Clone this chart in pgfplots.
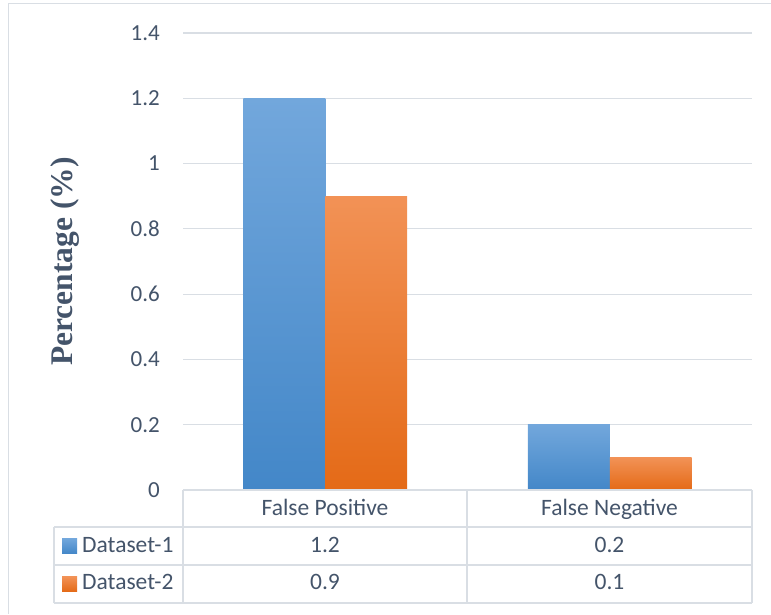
\documentclass[border=0pt]{standalone}
\usepackage{pgfplots}
\usepackage{pgfplotstable}
\pgfplotsset{compat=1.18}
\usepackage{fontspec}
\setmainfont{Carlito}
\newfontfamily\serifface{Liberation Serif}

\definecolor{txt}{HTML}{44546A}
\definecolor{rulec}{HTML}{D9DEE4}
\definecolor{blueTop}{HTML}{72A7DC}
\definecolor{blueBot}{HTML}{4387C8}
\definecolor{orTop}{HTML}{F29256}
\definecolor{orBot}{HTML}{E46A17}

% error rates per dataset (percent)
\pgfplotstableread{
idx cat ds1 ds2
0 {False Positive} 1.2 0.9
1 {False Negative} 0.2 0.1
}\rates

\newcommand{\tablefont}{\fontsize{23.5}{28}\selectfont}

% one bar per plot, so each bar gets its own gradient
\pgfplotsset{
  bluebar/.style={ybar, bar width=0.288, bar shift=-0.144, draw=none,
    top color=blueTop, bottom color=blueBot},
  orangebar/.style={ybar, bar width=0.288, bar shift=0.144, draw=none,
    top color=orTop, bottom color=orBot},
}

\begin{document}
\begin{tikzpicture}
\useasboundingbox (0,0) rectangle (771pt,614pt);
% chart frame
\draw[rulec, line width=1pt] (8pt,0pt) -- (8pt,610pt) -- (771pt,610pt);

\begin{axis}[
  at={(183pt,124pt)}, anchor=south west,
  scale only axis, width=569pt, height=457pt,
  xmin=-0.5, xmax=1.5, ymin=0, ymax=1.4,
  xtick=\empty,
  ytick={0,0.2,0.4,0.6,0.8,1,1.2,1.4},
  ymajorgrids, grid style={rulec, line width=1.2pt},
  axis line style={draw=none}, major tick length=0pt,
  yticklabel style={font=\fontsize{23}{28}\selectfont, text=txt, inner sep=0pt, xshift=-23pt,
    /pgf/number format/fixed, /pgf/number format/precision=1,
    /pgf/number format/assume math mode=true},
  ylabel={Percentage (\%)},
  every axis y label/.style={at={(axis description cs:-0.207,0.5)}, rotate=90,
    anchor=center, font=\serifface\bfseries\fontsize{31.5}{36}\selectfont, text=txt},
  clip=false,
]
\addplot[bluebar, skip coords between index={1}{2}] table[x=idx, y=ds1]{\rates};
\addplot[bluebar, skip coords between index={0}{1}] table[x=idx, y=ds1]{\rates};
\addplot[orangebar, skip coords between index={1}{2}] table[x=idx, y=ds2]{\rates};
\addplot[orangebar, skip coords between index={0}{1}] table[x=idx, y=ds2]{\rates};
\end{axis}

% data table grid
\begin{scope}[rulec, line width=1.2pt]
  \draw (183pt,124pt) -- (752pt,124pt);
  \draw (54pt,87pt) -- (752pt,87pt);
  \draw (54pt,49pt) -- (752pt,49pt);
  \draw (54pt,11pt) -- (752pt,11pt);
  \draw (183pt,11pt) -- (183pt,124pt);
  \draw (467pt,11pt) -- (467pt,124pt);
  \draw (752pt,11pt) -- (752pt,124pt);
  \draw (54pt,11pt) -- (54pt,87pt);
\end{scope}

% data table text
\begin{scope}[every node/.style={font=\tablefont, text=txt, anchor=mid, inner sep=0pt}]
  \pgfplotstablegetelem{0}{cat}\of\rates
  \node at (325pt,101pt) {\pgfplotsretval};
  \pgfplotstablegetelem{1}{cat}\of\rates
  \node at (609.5pt,101pt) {\pgfplotsretval};
  \pgfplotstablegetelem{0}{ds1}\of\rates
  \node at (325pt,64pt) {\pgfplotsretval};
  \pgfplotstablegetelem{1}{ds1}\of\rates
  \node at (609.5pt,64pt) {\pgfplotsretval};
  \pgfplotstablegetelem{0}{ds2}\of\rates
  \node at (325pt,26.5pt) {\pgfplotsretval};
  \pgfplotstablegetelem{1}{ds2}\of\rates
  \node at (609.5pt,26.5pt) {\pgfplotsretval};
  % legend keys
  \shade[top color=blueTop, bottom color=blueBot] (62pt,60.5pt) rectangle (77pt,75.5pt);
  \shade[top color=orTop, bottom color=orBot] (62pt,22.5pt) rectangle (77pt,37.5pt);
  \node[anchor=mid west] at (82pt,64pt) {Dataset-1};
  \node[anchor=mid west] at (82pt,26.5pt) {Dataset-2};
\end{scope}
\end{tikzpicture}
\end{document}
